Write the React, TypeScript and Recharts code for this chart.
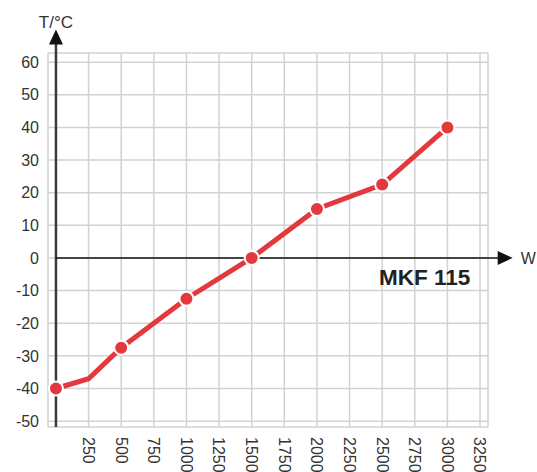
import React from "react";
import {
  LineChart,
  Line,
  XAxis,
  YAxis,
  CartesianGrid,
  ReferenceLine,
  ReferenceDot,
} from "recharts";

// Kälteleistung MKF 115: Temperatur über Heiz-/Kühlleistung
const power = [0, 250, 500, 1000, 1500, 2000, 2500, 3000];
const temperature = [-40, -37, -27.5, -12.5, 0, 15, 22.5, 40];
const marked = [true, false, true, true, true, true, true, true];

const xTicks = [0, 250, 500, 750, 1000, 1250, 1500, 1750, 2000, 2250, 2500, 2750, 3000, 3250];
const yTicks = [-50, -40, -30, -20, -10, 0, 10, 20, 30, 40, 50, 60];

const data = power.map((p, i) => ({ power: p, temp: temperature[i] }));

const FONT = "'Liberation Sans', Arial, Helvetica, sans-serif";
const RED = "#e2393e";
const TEXT = "#333";

const XTick = ({ x, y, payload }: any) => {
  if (payload.value === 0) return null;
  return (
    <text
      x={x}
      y={y}
      dy="0.35em"
      transform={`rotate(90 ${x} ${y})`}
      textAnchor="start"
      fontSize={16}
      fontFamily={FONT}
      fill={TEXT}
    >
      {payload.value}
    </text>
  );
};

const Dot = (props: any) => {
  const { cx, cy, index } = props;
  if (!marked[index]) return <g key={`d${index}`} />;
  return (
    <circle key={`d${index}`} cx={cx} cy={cy} r={7} fill={RED} stroke="#fff" strokeWidth={2} />
  );
};

export default function App() {
  return (
    <div style={{ position: "absolute", left: 0, top: 0, width: 537, height: 472 }}>
      <LineChart
        width={537}
        height={472}
        data={data}
        margin={{ top: 53, right: 49, left: 0, bottom: 0 }}
      >
        <CartesianGrid stroke="#d2d2d2" strokeWidth={1.5} />
        <XAxis
          dataKey="power"
          type="number"
          domain={[-61, 3311]}
          allowDataOverflow
          ticks={xTicks}
          axisLine={false}
          tickLine={false}
          tickSize={0}
          tickMargin={10}
          height={45}
          tick={<XTick />}
          interval={0}
        />
        <YAxis
          type="number"
          domain={[-51.8, 62.8]}
          allowDataOverflow
          ticks={yTicks}
          axisLine={false}
          tickLine={false}
          tickSize={0}
          tickMargin={9}
          width={48}
          interval={0}
          tick={{ fontSize: 16, fill: TEXT, fontFamily: FONT }}
        />
        <ReferenceLine
          segment={[
            { x: 0, y: -51.8 },
            { x: 0, y: 66 },
          ]}
          stroke="#3a3a3a"
          strokeWidth={2.5}
          ifOverflow="visible"
        />
        <ReferenceLine
          segment={[
            { x: 0, y: 0 },
            { x: 3420, y: 0 },
          ]}
          stroke="#111"
          strokeWidth={1.5}
          ifOverflow="visible"
        />
        <ReferenceDot
          x={0}
          y={70}
          ifOverflow="visible"
          shape={(p: any) => (
            <g>
              <polygon
                points={`${p.cx},${p.cy} ${p.cx - 7},${p.cy + 15} ${p.cx + 7},${p.cy + 15}`}
                fill="#111"
              />
              <text
                x={p.cx}
                y={p.cy - 2}
                textAnchor="middle"
                fontSize={17}
                fontFamily={FONT}
                fill={TEXT}
              >
                T/°C
              </text>
            </g>
          )}
        />
        <ReferenceDot
          x={3500}
          y={0}
          ifOverflow="visible"
          shape={(p: any) => (
            <g>
              <polygon
                points={`${p.cx},${p.cy} ${p.cx - 15},${p.cy - 7} ${p.cx - 15},${p.cy + 7}`}
                fill="#111"
              />
              <text
                x={p.cx + 8}
                y={p.cy}
                dy="0.35em"
                textAnchor="start"
                fontSize={16}
                fontFamily={FONT}
                fill={TEXT}
              >
                W
              </text>
            </g>
          )}
        />
        <ReferenceDot
          x={2825}
          y={-8.3}
          ifOverflow="visible"
          shape={(p: any) => (
            <text
              x={p.cx}
              y={p.cy}
              textAnchor="middle"
              fontSize={22.5}
              fontWeight="bold"
              fontFamily={FONT}
              fill="#222"
            >
              MKF 115
            </text>
          )}
        />
        <Line
          dataKey="temp"
          stroke={RED}
          strokeWidth={5}
          dot={Dot}
          activeDot={false}
          isAnimationActive={false}
        />
      </LineChart>
    </div>
  );
}
